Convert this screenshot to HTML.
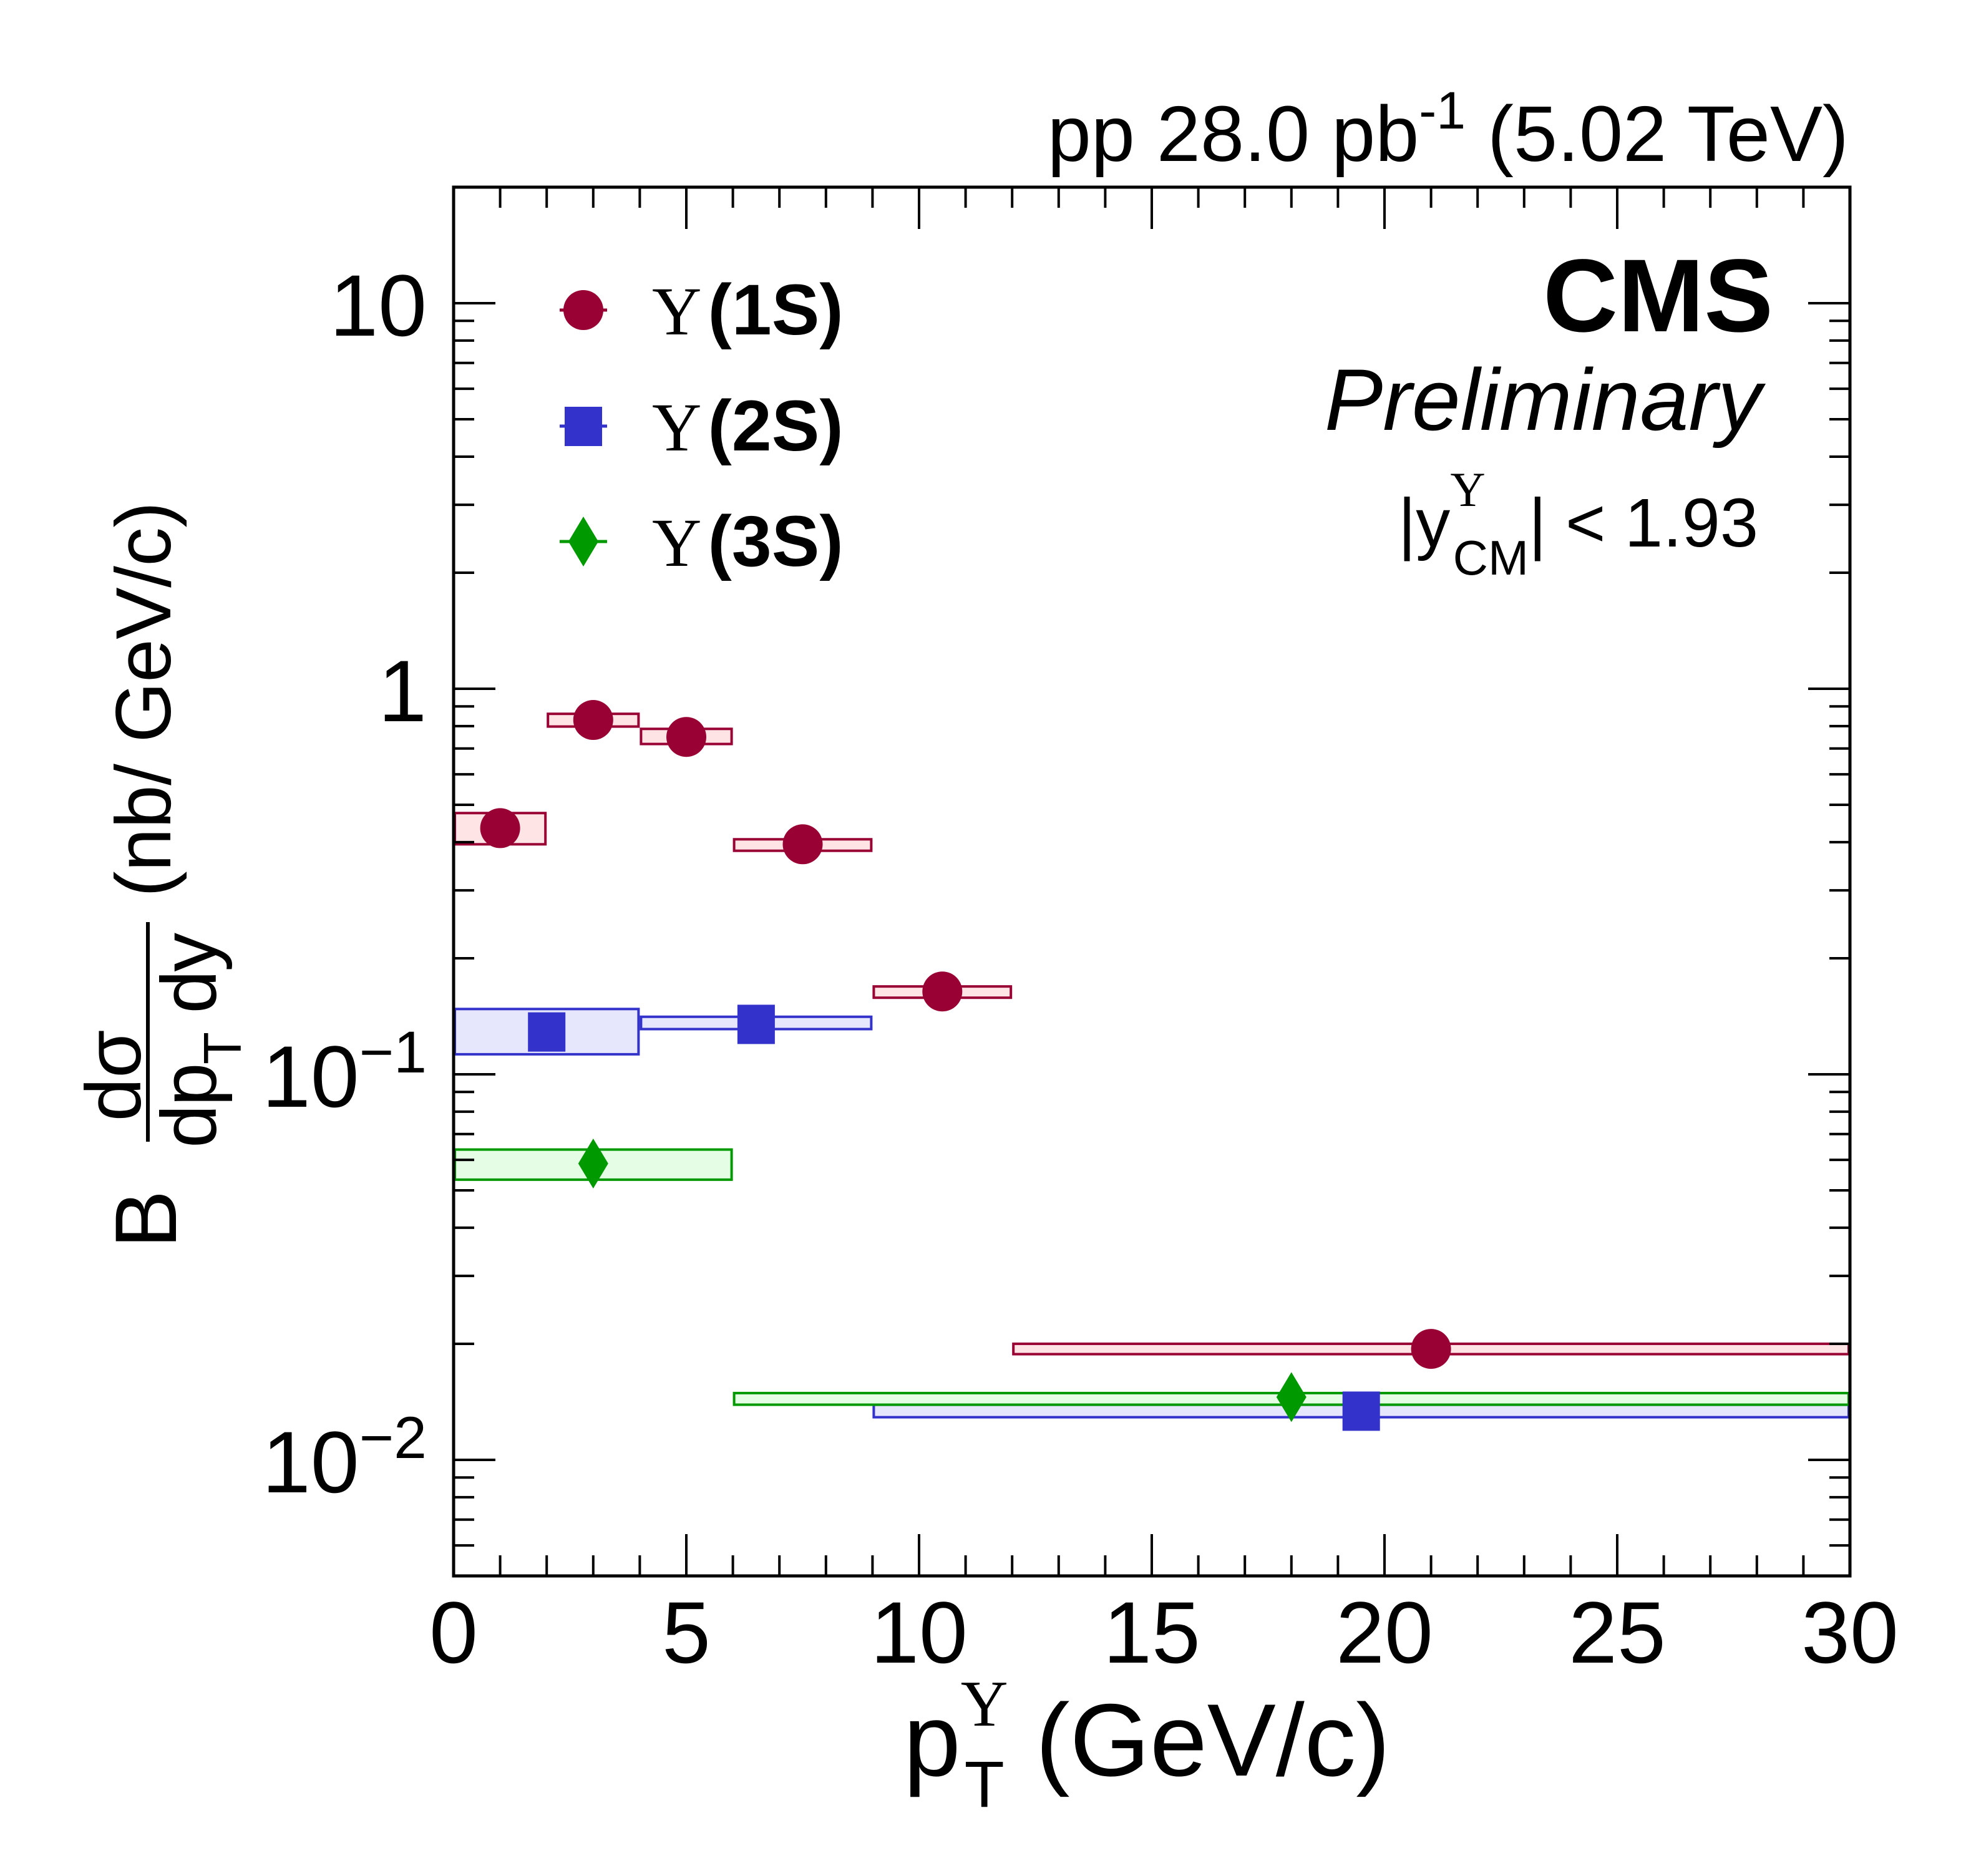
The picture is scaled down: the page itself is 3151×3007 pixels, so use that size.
<!DOCTYPE html>
<html><head><meta charset="utf-8"><style>
html,body{margin:0;padding:0;background:#fff}
svg{display:block}
text{font-family:"Liberation Sans",sans-serif;fill:#000}
.serif{font-family:"Liberation Serif",serif}
</style></head><body>
<svg id="chart" width="3151" height="3007" viewBox="0 0 3151 3007" xmlns="http://www.w3.org/2000/svg">
<g id="boxes"></g>
<g id="marks"></g>
<g id="axes"></g>
<g id="labels">
  <text x="2963" y="258" font-size="126" text-anchor="end">pp 28.0 pb<tspan font-size="84" dy="-52">-1</tspan><tspan dy="52"> (5.02 TeV)</tspan></text>
  <text x="2842" y="531" font-size="166" font-weight="bold" text-anchor="end">CMS</text>
  <text x="2823" y="689" font-size="140" font-style="italic" text-anchor="end">Preliminary</text>
  <text x="2818" y="876" font-size="110" text-anchor="end">|y<tspan class="serif" font-size="78" dy="-65">Υ</tspan><tspan font-size="78" dx="-52" dy="110">CM</tspan><tspan dy="-45">| &lt; 1.93</tspan></text>
  <text x="1448" y="2846" font-size="165">p<tspan class="serif" font-size="105" dy="-80">Υ</tspan><tspan font-size="105" dx="-70" dy="130">T</tspan><tspan dy="-50" dx="50">(GeV/c)</tspan></text>
  <g transform="rotate(-90)">
    <text x="-2001" y="282" font-size="140">B</text>
    <text x="-1724" y="225" font-size="125" text-anchor="middle">dσ</text>
    <line x1="-1830" y1="237" x2="-1478" y2="237" stroke="#000" stroke-width="6"/>
    <text x="-1840" y="346" font-size="125" textLength="345">dp<tspan font-size="85" dy="40">T</tspan><tspan dy="-40"> dy</tspan></text>
    <text x="-1438" y="273" font-size="125" textLength="634">(nb/ GeV/c)</text>
  </g>
</g>
<g id="legend"></g>
</svg>
<script>
const bins1S = [[0,2],[2,4],[4,6],[6,9],[9,12],[12,30]];
const x1S = [1,3,5,7.5,10.5,21];
const y1S = [0.435,0.83,0.75,0.395,0.164,0.0194];
const sysLo1S = [0.395,0.798,0.719,0.380,0.158,0.0188];
const sysHi1S = [0.476,0.861,0.787,0.407,0.169,0.0200];
const bins2S = [[0,4],[4,9],[9,30]];
const x2S = [2,6.5,19.5];
const y2S = [0.129,0.135,0.0134];
const sysLo2S = [0.1127,0.131,0.0129];
const sysHi2S = [0.1477,0.141,0.0139];
const bins3S = [[0,6],[6,30]];
const x3S = [3,18];
const y3S = [0.0587,0.01455];
const sysLo3S = [0.0533,0.0139];
const sysHi3S = [0.0638,0.0149];
const xTicks = [0,5,10,15,20,25,30];
const yMajor = [0.01,0.1,1,10];

const L=727,R=2965,T=300,B=2526, XMIN=0,XMAX=30, YMIN=0.005,YMAX=20;
const NS='http://www.w3.org/2000/svg';
function sx(v){return L+(v-XMIN)/(XMAX-XMIN)*(R-L);}
function sy(v){return B-(Math.log10(v)-Math.log10(YMIN))/(Math.log10(YMAX)-Math.log10(YMIN))*(B-T);}
function mk(tag,attrs,parent){const e=document.createElementNS(NS,tag);for(const k in attrs)e.setAttribute(k,attrs[k]);parent.appendChild(e);return e;}
const boxes=document.getElementById('boxes'),marks=document.getElementById('marks'),axes=document.getElementById('axes'),legend=document.getElementById('legend');

const series=[
 {name:'1s',bins:bins1S,x:x1S,y:y1S,lo:sysLo1S,hi:sysHi1S,col:'#990033',fill:'#ffe4e6',shape:'circle'},
 {name:'2s',bins:bins2S,x:x2S,y:y2S,lo:sysLo2S,hi:sysHi2S,col:'#3333cc',fill:'#e6e6fc',shape:'square'},
 {name:'3s',bins:bins3S,x:x3S,y:y3S,lo:sysLo3S,hi:sysHi3S,col:'#009900',fill:'#e4fde4',shape:'diamond'}
];
function marker(shape,cx,cy,col,parent){
  let e;
  if(shape==='circle') e=mk('circle',{cx:cx,cy:cy,r:32,fill:col},parent);
  else if(shape==='square') e=mk('rect',{x:cx-30,y:cy-31,width:60,height:63,fill:col},parent);
  else e=mk('polygon',{points:`${cx},${cy-40} ${cx+24},${cy} ${cx},${cy+40} ${cx-24},${cy}`,fill:col},parent);
  return e;
}
series.forEach(s=>{
  s.bins.forEach((b,i)=>{
    const x0=sx(b[0]),x1=sx(b[1]),y0=sy(s.hi[i]),y1=sy(s.lo[i]);
    const r=mk('rect',{x:x0+2,y:y0,width:x1-x0-4,height:y1-y0,fill:s.fill,stroke:s.col,'stroke-width':4},boxes);
    
    
  });
  s.x.forEach((xv,i)=>{
    const m=marker(s.shape,sx(xv),sy(s.y[i]),s.col,marks);
    
    
  });
});
const fr=mk('rect',{x:L,y:T,width:R-L,height:B-T,fill:'none',stroke:'#000','stroke-width':5},axes);


for(let v=XMIN;v<=XMAX;v++){
  const len=(v%5===0)?67:33,x=sx(v);
  mk('line',{x1:x,y1:B,x2:x,y2:B-len,stroke:'#000','stroke-width':4},axes);
  mk('line',{x1:x,y1:T,x2:x,y2:T+len,stroke:'#000','stroke-width':4},axes);
}
xTicks.forEach(v=>{
  const t=mk('text',{x:sx(v),y:2665,'font-size':140,'text-anchor':'middle'},axes);
  t.textContent=String(v);
  
  
});
for(let e=-3;e<=1;e++){
  for(let m=1;m<=9;m++){
    const v=m*Math.pow(10,e);
    if(v<YMIN-1e-12||v>YMAX+1e-9)continue;
    const len=m===1?67:33,y=sy(v);
    mk('line',{x1:L,y1:y,x2:L+len,y2:y,stroke:'#000','stroke-width':4},axes);
    mk('line',{x1:R,y1:y,x2:R-len,y2:y,stroke:'#000','stroke-width':4},axes);
  }
}
yMajor.forEach(v=>{
  const y=sy(v)+52;
  const t=mk('text',{x:684,y:y,'font-size':140,'text-anchor':'end'},axes);
  
  
  const ex=Math.round(Math.log10(v));
  if(ex===0) t.textContent='1';
  else if(ex===1) t.textContent='10';
  else {
    t.textContent='10';
    const sp=mk('tspan',{'font-size':95,dy:-55},t); sp.textContent='−'+(-ex);
  }
});
const labs=['(1S)','(2S)','(3S)'];
const ly=[497,683,868];
series.forEach((s,i)=>{
  const g=mk('g',{},legend);
  
  
  mk('line',{x1:897,y1:ly[i],x2:973,y2:ly[i],stroke:s.col,'stroke-width':5},g);
  marker(s.shape,935,ly[i],s.col,g);
  const t=mk('text',{x:1045,y:ly[i]+39,'font-size':115,'font-weight':'bold'},g);
  const u=mk('tspan',{class:'serif','font-weight':'normal','font-size':110},t); u.textContent='Υ';
  const v=mk('tspan',{dx:10},t); v.textContent=labs[i];
});
</script>
</body></html>
